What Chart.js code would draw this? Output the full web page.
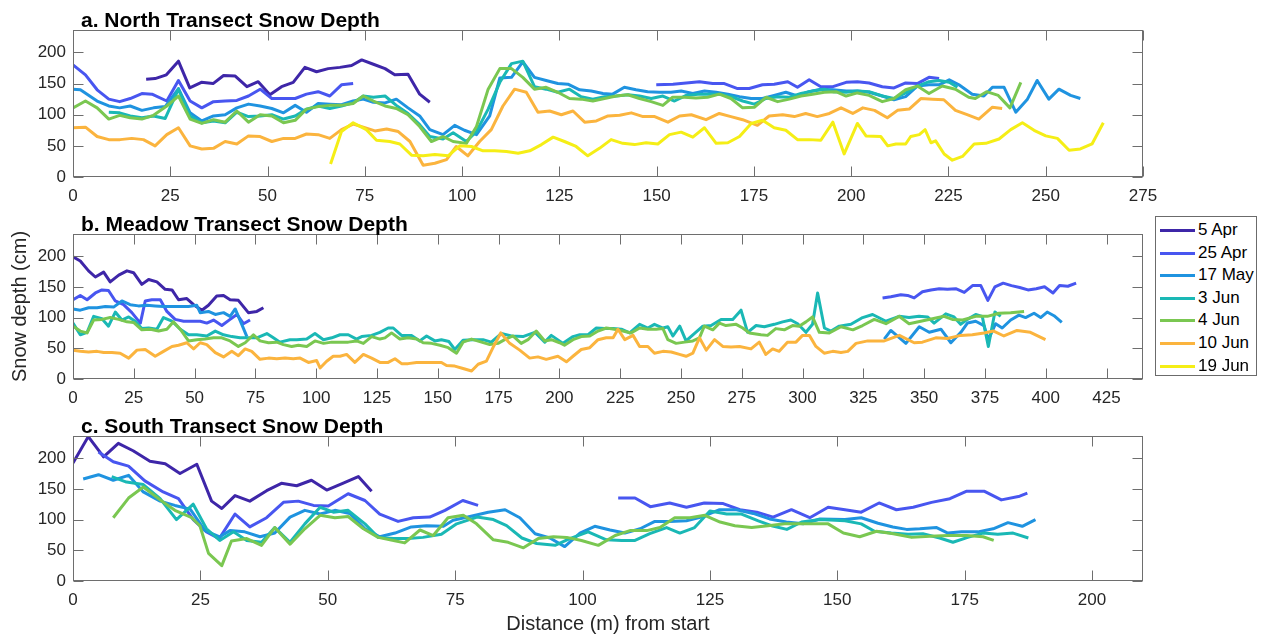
<!DOCTYPE html>
<html>
<head>
<meta charset="utf-8">
<script src="https://cdn.jsdelivr.net/npm/chart.js@4.4.1/dist/chart.umd.min.js"></script>
<style>
body { margin: 0; background: #fff; }
#wrap { position: relative; width: 1263px; height: 636px; overflow: hidden; font-family: 'Liberation Sans', Arial, sans-serif; }
#wrap canvas { position: absolute; left: 0; }
#legend { position: absolute; left: 1155px; top: 216px; width: 102px; height: 160px; border: 1px solid #6b6b6b; background: #fff; box-sizing: border-box; }
#legend .row { position: absolute; left: 0; width: 100px; height: 22px; }
#legend .swatch { position: absolute; left: 4px; top: 10px; width: 35px; height: 3px; }
#legend .txt { position: absolute; left: 42px; top: 0; font-size: 17px; line-height: 22px; color: #000; white-space: nowrap; }
</style>
</head>
<body>
<div id="wrap">
  <canvas id="chartNorth" width="1263" height="207" style="top:0px"></canvas>
  <canvas id="chartMeadow" width="1263" height="205" style="top:204px"></canvas>
  <canvas id="chartSouth" width="1263" height="230" style="top:406px"></canvas>
  <div id="legend"></div>
</div>
<script>
// survey dates and line colours (parula-like)
const dates = ['5 Apr', '25 Apr', '17 May', '3 Jun', '4 Jun', '10 Jun', '19 Jun'];
const colors = ['#3e26a8', '#4856f0', '#1f93e0', '#1ab8b5', '#7ac751', '#fbb43e', '#f5ee16'];

// axis limits / ticks
const yMax = 236;
const yTicks = [0, 50, 100, 150, 200];
const xStep = 25;
const xMaxNorth = 275;
const xMaxMeadow = 440;
const xMaxSouth = 210;

// ---- a. North transect: [distance (m), depth (cm)] ----
const northApr5 = [[18.8,157],[21.1,158],[24,164],[27.1,186],[30,143],[33,152],[36,150],[38.7,163],[41.7,162],[44.7,145],[47.6,153],[50.6,132],[53.6,145],[56.6,152],[59.6,176],[62.6,169],[65.6,174],[68.6,176],[71.6,179],[74.2,188],[77.2,181],[80.2,174],[82.7,164],[86.1,165],[89.1,133],[91.7,120]];
const northApr25a = [[0,180],[3.2,164],[6.2,140],[9.2,125],[12,121],[14.7,126],[17.7,134],[20.3,133],[24.1,122],[27.1,155],[30.1,122],[33.1,111],[36.1,121],[39.1,122],[42.1,123],[45.1,130],[48.1,141],[51.1,126],[54.1,126],[57.1,126],[60,133],[63,137],[66,130],[69,148],[72,150]];
const northApr25b = [[149.9,148],[154.2,149],[157.6,151],[161,153],[164.4,150],[167.4,150],[170.8,142],[173.8,142],[177.2,148],[180.2,149],[183.7,153],[186.2,144],[189.2,156],[192.2,145],[195.3,145],[198.7,152],[201.6,153],[204.6,151],[208,145],[211,143],[214,151],[217,150],[220,160],[222.6,158]];
const northMay17 = [[0,141],[1.9,140],[6.2,122],[9.2,114],[12,111],[14.7,114],[17.7,107],[20.7,111],[23.7,113],[27.1,142],[30.1,103],[33.1,90],[36.1,98],[39.1,100],[42.1,111],[45.1,117],[48.1,114],[51.1,110],[54.1,103],[57.1,115],[60,104],[63,118],[66,117],[69,116],[72,122],[74.6,125],[77.2,120],[80.2,119],[83.1,125],[86.1,111],[89.1,98],[91.7,76],[95.1,68],[98.1,83],[100.6,75],[103.7,68],[107.1,98],[109.7,159],[112.7,160],[115.6,185],[118.6,160],[121.6,155],[124.6,150],[127.2,149],[130.2,140],[133.2,138],[136.2,134],[138.7,133],[141.7,144],[144.7,140],[147.7,137],[150.7,136],[153.7,136],[156.3,138],[159.3,134],[162.3,138],[165.3,136],[168.3,133],[171.3,129],[174.3,126],[177.2,126],[180.2,131],[183.2,136],[186.2,130],[189.2,137],[192.2,141],[195.3,140],[198.7,138],[201.6,138],[204.6,136],[208,130],[211,124],[214,129],[217,146],[220,148],[222.6,148],[225.2,156],[227.7,148],[231.1,133],[234.1,130],[236.3,144],[239.3,144],[242.3,104],[245.3,125],[247.8,155],[250.8,125],[253.4,141],[256.4,131],[258.9,126]];
const northJun3 = [[9.2,104],[12,103],[14.7,98],[17.7,95],[20.7,98],[23.7,94],[27.1,141],[30.1,98],[33.1,87],[36.1,90],[39.1,87],[42.1,104],[45.1,97],[48.1,98],[51.1,100],[54.1,93],[57.1,98],[60,109],[63,114],[66,110],[69,114],[72,119],[74.6,130],[77.2,128],[80.2,130],[83.1,115],[86.1,102],[89.1,84],[91.7,65],[95.1,61],[97.7,71],[101.1,57],[103.7,73],[106.7,109],[109.7,152],[112.7,182],[115.6,186],[118.6,145],[121.6,141],[124.6,136],[127.6,141],[130.6,129],[133.6,125],[136.6,129],[139.6,130],[142.6,132],[145.6,130],[148.6,126],[151.6,130],[154.6,122],[157.6,131],[160.6,133],[163.6,133],[166.6,133],[169.6,128],[172.1,122],[175.1,117],[178.1,126],[181.1,129],[184.1,128],[187.1,134],[190.1,138],[193.1,141],[195.3,137],[198.7,136],[201.6,138],[204.6,137],[208,130],[211,126],[214,135],[217,146],[220,153],[222.6,155],[225.2,152],[227.3,144]];
const northJun4 = [[0,111],[3.2,122],[6.2,111],[9.2,93],[12,99],[14.7,95],[17.7,93],[20.7,99],[24.1,114],[27.1,130],[30.1,93],[33.1,86],[36.1,92],[39.1,88],[42.1,106],[45.1,88],[48.1,100],[51.1,98],[54.1,87],[57.1,91],[60,109],[63,113],[66,115],[69,115],[72,118],[74.6,130],[77.2,122],[80.2,114],[83.1,110],[86.1,100],[89.1,81],[92.1,57],[95.1,65],[97.7,57],[101.1,54],[103.7,81],[106.7,141],[109.7,174],[112.7,174],[115.6,160],[118.6,141],[121.6,144],[124.6,136],[127.6,126],[130.6,125],[133.6,122],[136.6,126],[139.6,130],[142.6,132],[145.6,126],[148.6,121],[151.6,115],[154.1,128],[157.1,128],[160.1,127],[163.1,128],[166.1,133],[169.1,126],[172.1,111],[175.1,112],[178.1,128],[181.1,121],[184.1,125],[187.1,130],[190.1,133],[193.1,136],[196.1,137],[198.7,130],[201.6,135],[204.6,131],[208,121],[211,126],[214,140],[217,146],[220,134],[223.4,146],[226.8,141],[230.2,128],[231.9,126],[234.8,137],[237.8,131],[240.8,111],[243.6,152]];
const northJun10 = [[0,79],[3.2,80],[6.2,65],[9.2,60],[12.1,60],[15.1,62],[18.1,60],[21.1,50],[24.1,68],[27.1,79],[30.1,50],[33.1,45],[36.1,46],[39.1,57],[42.1,53],[45.1,66],[48.1,65],[51.1,57],[54.1,62],[57.1,62],[60,69],[63,68],[66,62],[69,76],[72,85],[74.6,80],[77.6,74],[80.6,77],[83.6,73],[86.6,57],[90,19],[93,22],[96,28],[98.5,49],[101.5,34],[104.5,57],[107.5,76],[110.5,114],[113.5,141],[116.5,136],[119.5,104],[122.5,106],[125.5,100],[128.5,106],[131.5,88],[134.5,90],[137.5,98],[140.5,99],[143.5,103],[146.5,97],[149.5,97],[152.9,88],[155.9,98],[158.9,100],[162.7,92],[166.1,102],[169.1,97],[172.1,92],[175.9,83],[178.9,98],[182.4,100],[185.4,97],[188.3,102],[191.3,97],[194.4,102],[197.4,111],[200.4,102],[203,111],[206,107],[209.3,95],[211.9,107],[214.9,109],[217.9,126],[220.9,125],[223.8,124],[226.8,107],[229.8,100],[232.8,93],[236.3,112],[238.8,110]];
const northJun19 = [[66.2,21],[69,73],[72,87],[75.4,76],[78,59],[81.4,57],[84,53],[87,35],[90,34],[93,36],[96.4,34],[99.4,50],[102.4,49],[105.4,42],[108.4,42],[111.4,41],[114.4,38],[117.4,42],[120.4,52],[123.4,64],[126.3,57],[129.3,49],[132.3,34],[135.3,46],[138.3,60],[141.3,54],[144.3,52],[147.3,55],[150.3,53],[153.3,68],[156.3,72],[159.3,64],[162.3,79],[165.3,54],[168.3,55],[171.3,65],[174.3,86],[177.2,91],[180.2,79],[183.2,75],[186.2,60],[189.2,60],[192.2,59],[195.3,88],[198.2,37],[201.6,86],[203.8,66],[207.6,65],[209.4,50],[211.5,53],[214,53],[215.3,65],[217.5,68],[219,76],[220.5,55],[221.7,58],[223.9,37],[226,27],[228.6,33],[231.6,53],[234.6,54],[238,61],[241,76],[244,87],[247,75],[250,66],[253,62],[256,43],[258.9,45],[261.9,53],[264.8,87]];

// ---- b. Meadow transect ----
const meadowApr5 = [[0,199],[3,192],[6.4,176],[9.2,166],[12.6,174],[15.3,158],[18.8,169],[22.2,176],[24.9,173],[28.3,154],[31.1,162],[34.5,158],[37.9,146],[40.7,145],[43.4,129],[46.8,131],[49.6,121],[53,112],[55.7,120],[59.1,135],[61.9,136],[64.6,129],[68,128],[72.1,108],[75.6,110],[78.3,116]];
const meadowApr25a = [[0,129],[3,136],[5.8,129],[9.2,140],[11.9,145],[14.6,144],[17.4,127],[20.8,121],[24.2,108],[27.7,91],[29.7,127],[32.4,129],[35.9,129],[38.6,110],[42,97],[45.5,94],[48.9,94],[52.3,94],[55,91],[57.8,96],[61.2,87],[64.6,97],[67.4,105],[70.1,90],[72.8,96]];
const meadowApr25b = [[332.9,132],[336.3,134],[340.4,137],[343.2,136],[345.9,132],[349.3,142],[352.8,145],[356.2,147],[359.6,146],[363,147],[366.5,141],[369.9,152],[373.3,152],[376.2,128],[379.1,150],[382.5,156],[385.9,152],[389.3,149],[392.7,145],[396.1,147],[399.5,150],[403,140],[405.7,152],[409.1,151],[412.5,156]];
const meadowMay17a = [[0,114],[3,112],[6.4,116],[9.9,116],[13.3,118],[16.7,117],[20.1,127],[23.5,121],[26.9,119],[30.4,120],[33.8,119],[37.2,118],[40.7,118],[44.1,118],[47.5,118],[50.9,120],[52.3,108],[55.7,110],[58.5,105],[61.9,108],[64.6,102],[66.7,114],[69.4,89],[71.5,69]];
const meadowMay17b = [[333.6,65],[336.3,79],[342.5,58],[348,85],[352.1,76],[356.9,81],[361,59],[365.1,76],[367.8,91],[371.2,94],[374.6,87],[376.4,64],[379.4,90],[382.1,83],[385.6,96],[389,104],[391.7,100],[395.2,107],[397.9,100],[400.6,109],[403.4,103],[406.6,92]];
const meadowJun3 = [[0,91],[3,72],[5.8,76],[8.5,102],[11.9,98],[14.6,86],[17.4,109],[20.1,96],[22.9,101],[25.6,94],[28.3,82],[31.1,83],[34.5,81],[37.2,100],[40.7,94],[44.1,81],[47.5,72],[50.9,72],[55,70],[58.5,78],[61.9,72],[65.3,69],[68.7,67],[72.1,67],[75.6,67],[79.7,74],[82.4,67],[85.1,60],[89.2,64],[92,64],[96.1,65],[99.5,74],[103,64],[106.4,67],[109.8,72],[113.2,72],[116.6,65],[118.7,69],[122.8,71],[126.2,76],[129.6,83],[131.7,83],[135.1,71],[139.2,71],[142.6,62],[145.4,70],[148.8,62],[151.5,64],[154.6,61],[157,48],[160.4,63],[164.5,64],[168.6,64],[172,60],[176.1,74],[180.3,70],[185,69],[189.9,76],[194,60],[196.7,71],[201.5,58],[205.6,69],[208.4,72],[211.8,72],[215.2,83],[218.6,82],[222.1,82],[225.5,81],[228.9,75],[233,89],[236.4,83],[239.1,89],[242.6,83],[244.6,85],[246.7,70],[249.5,86],[252.1,62],[254.9,72],[259,86],[262.4,87],[266.5,97],[271.3,97],[274.7,112],[277.4,76],[280.9,87],[284.3,85],[288.4,89],[291.8,93],[295.2,96],[298,90],[301.4,76],[304.1,89],[306.2,140],[309,83],[311.7,78],[315.1,86],[319.9,89],[324.7,100],[328.8,105],[334.3,94],[339.7,102],[343.8,100],[347.9,102],[351.4,101],[354.1,91],[358.9,106],[362.3,101],[365,89],[367.8,97],[371.2,105],[373.9,102],[376.4,53],[379.1,109],[381.5,102]];
const meadowJun4 = [[0,86],[3,78],[5.8,75],[8.5,96],[11.9,97],[15.3,100],[18.8,97],[22.2,93],[24.9,92],[28.3,80],[31.8,81],[35.2,78],[38.6,81],[41.3,93],[44.1,81],[47.5,62],[50.9,64],[54.3,65],[57.8,67],[61.2,67],[64.6,62],[68,53],[70.8,59],[74.2,72],[76.9,62],[80.4,59],[83.8,60],[86.5,56],[89.9,53],[92.7,55],[96.1,53],[99.5,62],[103,58],[106.4,60],[109.8,60],[113.2,60],[116.6,62],[119.4,58],[122.8,69],[126.2,65],[128.3,67],[131,75],[134.4,65],[137.8,67],[141.3,65],[144,59],[147.4,58],[150.9,55],[154.3,51],[157.7,42],[160.4,60],[163.9,65],[168,60],[171.4,56],[174.8,58],[177.5,64],[180.9,70],[184.3,58],[187.1,64],[190.5,78],[194,62],[196.7,64],[200.1,59],[202.1,55],[205.6,64],[209,69],[212.5,70],[215.9,78],[219.3,83],[222.7,81],[226.1,78],[229.5,75],[233,83],[236.4,81],[239.8,81],[242.6,82],[244.6,64],[248,58],[251.5,60],[254.9,62],[257.6,67],[259.6,86],[263.1,80],[265.8,91],[268.5,87],[272.7,89],[275.4,83],[278.1,75],[282.9,72],[285.6,71],[289,82],[292.5,80],[295.9,87],[298.6,86],[301.4,93],[304.1,101],[306.9,76],[311,75],[315.8,85],[320.7,80],[324.7,87],[329.5,97],[334.3,90],[339.7,102],[343.8,90],[348.6,94],[353.4,98],[358.2,102],[361.6,97],[365.8,96],[371.2,102],[376,102],[380.8,107],[385.6,108],[391.1,110]];
const meadowJun10 = [[0,47],[3,45],[6.4,44],[9.9,45],[12.6,43],[16,43],[19.4,42],[22.9,34],[26.3,47],[29.7,48],[33.8,37],[37.2,45],[40.7,53],[43.4,55],[46.8,59],[49.6,49],[52.3,59],[55,56],[58.5,43],[61.9,36],[65.3,45],[68,38],[70.8,49],[73.5,45],[76.9,32],[80.4,34],[83.8,33],[87.2,34],[90.6,33],[93.4,34],[96.8,27],[100.2,30],[101.6,18],[104.3,29],[107,37],[109.8,37],[112.5,40],[115.9,27],[119.4,40],[122.8,34],[126.2,27],[129.6,27],[132.4,33],[135.1,25],[137.8,25],[141.3,27],[144.7,27],[148.1,27],[151.5,27],[153.6,22],[157,21],[160.4,17],[163.9,13],[166.6,24],[170,29],[172.8,52],[175.9,75],[179.6,58],[183.7,47],[187.8,34],[191.2,36],[194.6,32],[199.4,37],[202.9,28],[205.6,37],[209,48],[212.5,51],[215.9,64],[219.3,67],[222.1,67],[224.1,81],[226.9,64],[230.3,71],[233,53],[236.4,53],[239.1,42],[242.6,45],[246,44],[249.4,40],[252.1,37],[254.9,42],[257.6,67],[260.4,47],[263.8,64],[267.2,53],[270.6,52],[274.1,53],[278.8,49],[282.2,60],[284.9,40],[287.7,49],[290.4,45],[293.8,60],[297.3,60],[300,71],[302.8,71],[305.5,53],[308.9,42],[312.4,45],[315.8,43],[318.6,45],[322,58],[326.8,62],[333.6,62],[339.8,71],[345.9,59],[349.3,60],[354.8,67],[359.6,66],[365,71],[369.8,72],[374.6,75],[378.6,78],[382.8,70],[388.2,79],[393.7,76],[399.9,64]];

// ---- c. South transect ----
const southApr5 = [[0,192],[3,235],[6,202],[8.9,224],[11.8,212],[15.1,195],[18.1,191],[21,175],[24.3,190],[27.2,130],[29.2,118],[31.8,139],[34.7,130],[38,147],[40.9,159],[43.9,155],[46.8,164],[49.8,148],[52.7,158],[56,170],[58.6,146]];
const southApr25a = [[5,210],[7.9,194],[10.9,187],[14.1,163],[17.7,145],[20.7,134],[23.6,100],[26.2,80],[28.7,69],[31.8,109],[34.7,88],[38,103],[41.3,128],[44.2,130],[47.2,123],[50.1,122],[54,142],[57.3,131],[60.2,109],[63.8,97],[66.8,103],[70,104],[73,115],[76.5,131],[79.5,123]];
const southApr25b = [[107,135],[110.3,135],[113.3,121],[117.1,127],[120.4,120],[123.9,127],[127.6,126],[130.9,116],[134.2,112],[137.4,104],[141,116],[144.6,103],[148.2,120],[151.5,116],[154.7,112],[158.2,127],[161.6,116],[164.9,120],[168.5,128],[172.1,134],[175.3,146],[178.9,146],[182.2,132],[185.8,138],[187.3,143]];
const southMay17 = [[2,166],[5,173],[7.9,164],[10.9,172],[13.8,145],[17.1,130],[20,123],[23,117],[25.9,82],[28.8,72],[30.8,82],[33.7,80],[36.7,72],[39.6,78],[42.6,104],[45.5,115],[48.5,109],[51.4,115],[54.3,110],[57.3,85],[60.2,72],[63.2,78],[66.4,88],[69.4,90],[72.7,89],[74.6,99],[77.9,105],[81.5,112],[84.8,116],[87.7,103],[90.7,77],[93.6,70],[96.5,56],[99.5,78],[102.4,89],[105.4,83],[108.3,78],[111.3,85],[114.2,97],[117.1,97],[120.4,98],[123.7,105],[126.9,116],[130.2,116],[133.5,110],[136.7,101],[140,96],[143.3,93],[146.6,101],[151.5,100],[154.7,103],[158,94],[160.9,88],[163.6,84],[166.2,85],[169.5,87],[171.7,78],[174.4,80],[177.6,80],[180.6,85],[183.5,95],[186.3,89],[188.9,100]];
const southJun3 = [[7.6,170],[10.5,161],[13.8,157],[17.1,134],[20.3,100],[23.6,125],[26.2,85],[28.8,66],[31.5,80],[34.1,66],[37,63],[39.6,87],[42.6,63],[45.5,93],[48.5,120],[51.1,112],[54,115],[57.3,93],[59.9,71],[62.9,69],[65.8,69],[68.7,71],[72.3,76],[75.3,93],[79.3,104],[82.5,100],[85.1,90],[88.1,70],[91,61],[94.6,58],[97.5,69],[101.1,80],[104.7,67],[107.7,66],[110.3,66],[113.2,77],[116.5,87],[119.1,78],[122,87],[125,114],[128.3,109],[131.2,109],[134.5,98],[137.1,90],[140.1,84],[143,96],[146.6,100],[151.5,98],[154.7,93],[157.3,81],[160.6,78],[163.9,76],[166.8,77],[170.1,70],[172.7,63],[175.6,71],[178.6,78],[181.5,76],[184.5,78],[187.5,70]];
const southJun4 = [[7.9,103],[10.9,135],[13.8,153],[17.1,132],[20,115],[23.3,103],[24.9,90],[26.6,45],[29.2,25],[31.1,65],[34.1,69],[37,58],[39.6,87],[42.6,60],[45.5,85],[48.5,107],[51.4,103],[54,105],[57,85],[59.9,71],[62.9,66],[65.1,62],[68.1,83],[70.7,74],[73.6,103],[76.6,107],[79.2,93],[82.5,67],[85.4,63],[88.4,54],[91.3,69],[94.3,72],[96.9,71],[99.8,66],[103.1,58],[106.4,74],[109.3,82],[112.6,82],[115.2,87],[118.1,103],[121.1,103],[124,107],[127,96],[129.9,90],[133.2,87],[136.4,90],[139.7,93],[143,93],[145.9,93],[148.2,93],[151.2,78],[154.4,72],[157.7,81],[161,77],[164.6,71],[168.2,73],[171.8,74],[175.4,74],[178.6,72],[180.7,66]];

Chart.defaults.color = '#262626';
Chart.defaults.font.family = "'Liberation Sans', Arial, Helvetica, sans-serif";
Chart.defaults.font.size = 17;

// join two stretches of a transect with a break between them
function withGap(a, b) {
    const mid = (a[a.length - 1][0] + b[0][0]) / 2;
    return [...a, [mid, null], ...b];
}

function series(pairs, i) {
    return {
        label: dates[i],
        data: pairs.map(p => ({ x: p[0], y: p[1] })),
        borderColor: colors[i],
        backgroundColor: colors[i],
        borderWidth: 3,
        borderJoinStyle: 'round',
        pointRadius: 0,
        fill: false,
        tension: 0,
        order: 10 - i
    };
}

// box, inward ticks on all four sides and the panel title
const matlabAxes = {
    id: 'matlabAxes',
    afterDraw(chart, args, opts) {
        const { ctx, chartArea: a, scales: { x, y } } = chart;
        const len = 10;
        ctx.save();
        ctx.strokeStyle = '#6e6e6e';
        ctx.lineWidth = 1;
        const L = Math.round(a.left) + 0.5, R = Math.round(a.right) - 0.5;
        const T = Math.round(a.top) + 0.5, B = Math.round(a.bottom) - 0.5;
        ctx.strokeRect(L, T, R - L, B - T);
        ctx.beginPath();
        x.ticks.forEach(t => {
            const px = Math.round(x.getPixelForValue(t.value)) + 0.5;
            ctx.moveTo(px, B); ctx.lineTo(px, B - len);
            ctx.moveTo(px, T); ctx.lineTo(px, T + len);
        });
        y.ticks.forEach(t => {
            const py = Math.round(y.getPixelForValue(t.value)) + 0.5;
            ctx.moveTo(L, py); ctx.lineTo(L + len, py);
            ctx.moveTo(R, py); ctx.lineTo(R - len, py);
        });
        ctx.stroke();
        ctx.fillStyle = '#000';
        ctx.font = "bold 21px 'Liberation Sans', Arial, sans-serif";
        ctx.textBaseline = 'alphabetic';
        ctx.textAlign = 'left';
        ctx.fillText(opts.title, a.left + 8, a.top - 3);
        ctx.restore();
    }
};

function makePanel(id, datasets, xMax, title, opts) {
    const xTicks = [];
    for (let v = 0; v <= xMax; v += xStep) xTicks.push(v);
    const ctx = document.getElementById(id).getContext('2d');
    return new Chart(ctx, {
        type: 'line',
        data: { datasets },
        plugins: [matlabAxes],
        options: {
            responsive: false,
            animation: false,
            events: [],
            layout: { padding: { left: 0, right: 120, top: 30, bottom: 0 } },
            plugins: {
                legend: { display: false },
                tooltip: { enabled: false },
                matlabAxes: { title }
            },
            scales: {
                x: {
                    type: 'linear',
                    min: 0,
                    max: xMax,
                    grid: { display: false, drawTicks: false },
                    border: { display: false },
                    ticks: { padding: 9, autoSkip: false, maxRotation: 0 },
                    afterBuildTicks: s => { s.ticks = xTicks.map(v => ({ value: v })); },
                    afterFit: s => { s.height = opts.xHeight; },
                    title: opts.xTitle ? { display: true, text: opts.xTitle, font: { size: 20 }, color: '#262626', padding: { top: 0, bottom: 0 } } : { display: false }
                },
                y: {
                    min: 0,
                    max: yMax,
                    grid: { display: false, drawTicks: false },
                    border: { display: false },
                    ticks: { padding: 7 },
                    afterBuildTicks: s => { s.ticks = yTicks.map(v => ({ value: v })); },
                    afterFit: s => { s.width = 73; },
                    title: opts.yTitle ? { display: true, text: opts.yTitle, font: { size: 20 }, color: '#262626', padding: { top: 8, bottom: 0 } } : { display: false }
                }
            }
        }
    });
}

makePanel('chartNorth', [
    series(northApr5, 0),
    series(withGap(northApr25a, northApr25b), 1),
    series(northMay17, 2),
    series(northJun3, 3),
    series(northJun4, 4),
    series(northJun10, 5),
    series(northJun19, 6)
], xMaxNorth, 'a. North Transect Snow Depth', { xHeight: 30 });

makePanel('chartMeadow', [
    series(meadowApr5, 0),
    series(withGap(meadowApr25a, meadowApr25b), 1),
    series(withGap(meadowMay17a, meadowMay17b), 2),
    series(meadowJun3, 3),
    series(meadowJun4, 4),
    series(meadowJun10, 5)
], xMaxMeadow, 'b. Meadow Transect Snow Depth', { xHeight: 30, yTitle: 'Snow depth (cm)' });

makePanel('chartSouth', [
    series(southApr5, 0),
    series(withGap(southApr25a, southApr25b), 1),
    series(southMay17, 2),
    series(southJun3, 3),
    series(southJun4, 4)
], xMaxSouth, 'c. South Transect Snow Depth', { xHeight: 55, xTitle: 'Distance (m) from start' });

// legend box (shared by all panels)
const legend = document.getElementById('legend');
dates.forEach((d, i) => {
    const row = document.createElement('div');
    row.className = 'row';
    row.style.top = (2 + i * 22.6) + 'px';
    row.innerHTML = '<span class="swatch" style="background:' + colors[i] + '"></span><span class="txt">' + d + '</span>';
    legend.appendChild(row);
});
</script>
</body>
</html>
